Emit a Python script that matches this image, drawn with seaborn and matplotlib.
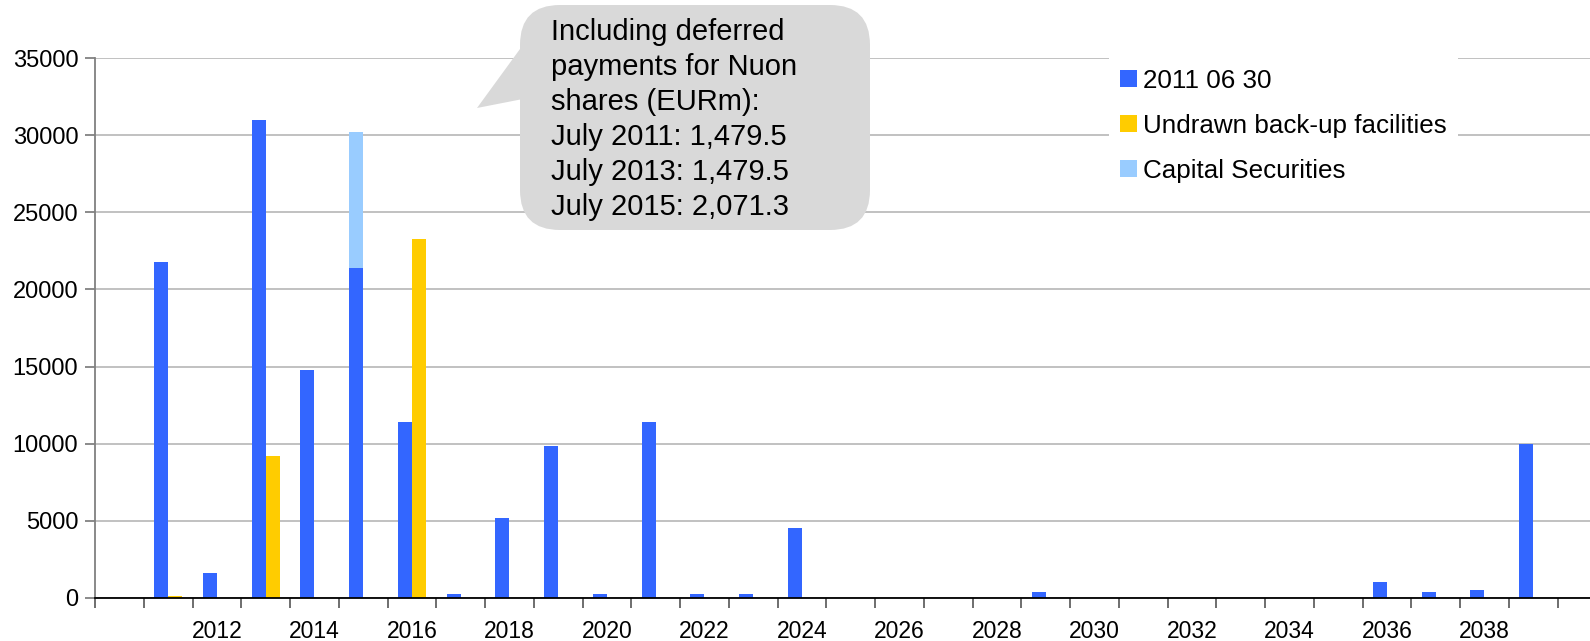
import numpy as np
import pandas as pd
import matplotlib
matplotlib.use("Agg")
import matplotlib.pyplot as plt
import seaborn as sns
from matplotlib.patches import FancyBboxPatch, Polygon, Patch
from matplotlib.transforms import Affine2D

# ---- data (EURm) ----
years = [str(y) for y in range(2010, 2040)]
debt_2011_06_30 = [0, 21800, 1650, 31000, 14800, 21400, 11400, 280, 5200, 9850,
                   280, 11400, 280, 280, 4550, 0, 0, 0, 0, 410,
                   0, 0, 0, 0, 0, 0, 1050, 410, 540, 10000]
undrawn_backup = [0, 150, 0, 9200, 0, 0, 23300, 0, 0, 0,
                  0, 0, 0, 0, 0, 0, 0, 0, 0, 0,
                  0, 0, 0, 0, 0, 0, 0, 0, 0, 0]
capital_securities = [0, 0, 0, 0, 0, 8800, 0, 0, 0, 0,
                      0, 0, 0, 0, 0, 0, 0, 0, 0, 0,
                      0, 0, 0, 0, 0, 0, 0, 0, 0, 0]
tick_years = ["2012", "2014", "2016", "2018", "2020", "2022", "2024", "2026",
              "2028", "2030", "2032", "2034", "2036", "2038"]
series_names = ["2011 06 30", "Undrawn back-up facilities", "Capital Securities"]
colors = ["#3366FF", "#FFCC00", "#99CCFF"]
note_text = ("Including deferred\npayments for Nuon\nshares (EURm):\n"
             "July 2011: 1,479.5\nJuly 2013: 1,479.5\nJuly 2015: 2,071.3")

W, H = 1590, 641
plt.rcParams["font.family"] = ["Liberation Sans", "DejaVu Sans"]

fig = plt.figure(figsize=(W / 100, H / 100), dpi=100)
ax = fig.add_axes([95 / W, 1 - 598 / H, 1 - 95 / W, (598 - 58) / H])

main_df = pd.DataFrame({
    "year": years * 2,
    "value": debt_2011_06_30 + undrawn_backup,
    "series": [series_names[0]] * len(years) + [series_names[1]] * len(years),
})
# stacked layer: total height of the first series including capital securities
stack_df = pd.DataFrame({
    "year": years * 2,
    "value": list(np.add(debt_2011_06_30, capital_securities)) + [0] * len(years),
    "series": [series_names[0]] * len(years) + [series_names[1]] * len(years),
})

common = dict(x="year", y="value", hue="series", order=years,
              hue_order=series_names[:2], width=0.575, gap=0, dodge=True,
              saturation=1, errorbar=None, legend=False, linewidth=0, ax=ax)
sns.barplot(data=stack_df, palette=[colors[2], colors[2]], **common)
sns.barplot(data=main_df, palette=colors[:2], **common)

ax.set_xlim(-0.5, -0.5 + (W - 95) / 48.75)
ax.set_ylim(0, 35000)
ax.set_yticks(np.arange(0, 35001, 5000))
ax.set_xlabel("")
ax.set_ylabel("")

# boundary ticks between categories, labels centred on even years
ax.set_xticks(np.arange(-0.5, len(years), 1))
ax.set_xticklabels([])
label_pos = [years.index(y) for y in tick_years]
ax.set_xticks(label_pos, labels=tick_years, minor=True)
ax.tick_params(axis="x", which="major", length=7, width=1.2, color="#555555")
ax.tick_params(axis="x", which="minor", length=0, pad=16, labelsize=16.5)
ax.tick_params(axis="y", length=7, width=1.2, color="#777777", pad=5, labelsize=17)

ax.yaxis.grid(True, color="#bcbcbc", linewidth=1.3)
ax.xaxis.grid(False)
ax.set_axisbelow(True)
for s in ["top", "right"]:
    ax.spines[s].set_visible(False)
ax.spines["left"].set_color("#808080")
ax.spines["left"].set_linewidth(1.3)
ax.spines["bottom"].set_color("black")
ax.spines["bottom"].set_linewidth(1.3)

# legend
handles = [Patch(facecolor=c, edgecolor="none") for c in colors]
leg = ax.legend(handles, series_names, loc="upper left",
                bbox_to_anchor=(1109 / W, 1 - 58 / H), bbox_transform=fig.transFigure,
                borderaxespad=0, frameon=True, fancybox=False, fontsize=18.75,
                handlelength=0.65, handleheight=0.65, handletextpad=0.25,
                labelspacing=0.8, borderpad=0.42)
leg.get_frame().set_facecolor("white")
leg.get_frame().set_edgecolor("none")
leg.get_frame().set_alpha(1)

# callout bubble in pixel coordinates (y downward)
pix = Affine2D().scale(1 / W, -1 / H).translate(0, 1) + fig.transFigure
bubble = FancyBboxPatch((520, 5), 350, 225, boxstyle="round,pad=0,rounding_size=40",
                        transform=pix, facecolor="#d9d9d9", edgecolor="none",
                        zorder=5)
tail = Polygon([(528, 38), (477, 108), (528, 98)], closed=True, transform=pix,
               facecolor="#d9d9d9", edgecolor="none", zorder=5)
fig.add_artist(tail)
fig.add_artist(bubble)
fig.text(551, 18, note_text, transform=pix, ha="left", va="top", fontsize=21,
         linespacing=1.315, color="black", zorder=6)

fig.savefig("out.png", dpi=100)
